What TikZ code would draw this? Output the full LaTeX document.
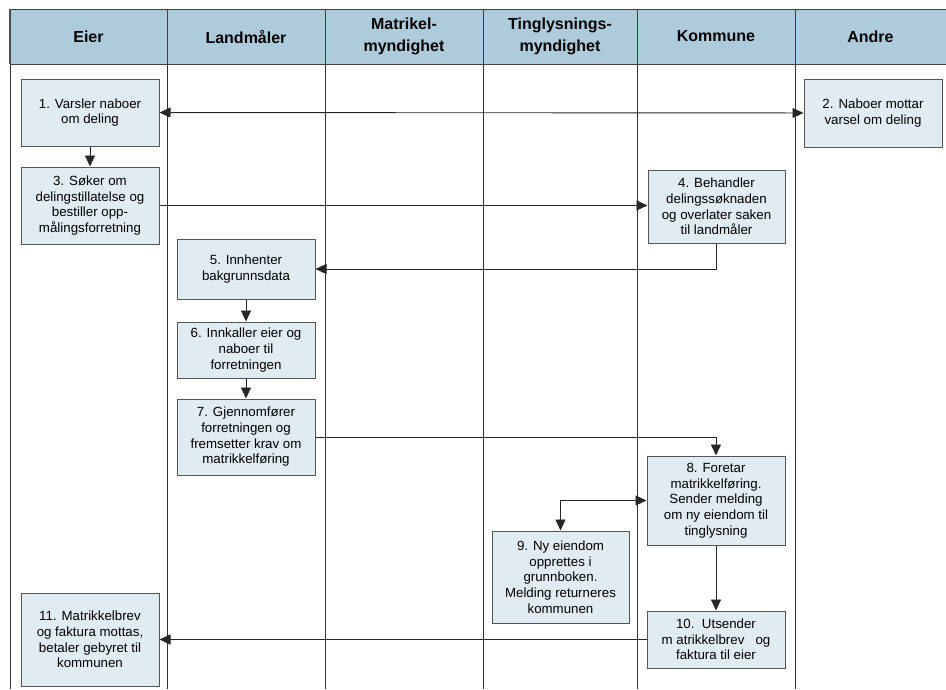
\documentclass[tikz,border=0pt]{standalone}
\usepackage{fontspec}
\setmainfont{Liberation Sans}
\usepackage{tikz}
\usetikzlibrary{arrows.meta}
\usetikzlibrary{calc}
\usetikzlibrary{positioning}
\definecolor{headblue}{RGB}{174,203,219}
\definecolor{boxblue}{RGB}{224,235,242}
\definecolor{edgegray}{RGB}{85,85,85}
\tikzstyle{arrow}= [line width=0.9pt, draw=black!85, ->, >={Triangle[length=11pt,width=10pt]}]
\tikzstyle{bsarrow}= [line width=0.9pt, draw=black!85, <->, >={Triangle[length=11pt,width=10pt]}]

\begin{document}
\begin{tikzpicture}[
		x=1pt,y=-1pt,
		node distance=0pt,
    lane/.style={
    draw=black!75,fill=headblue,line width=0.9pt,outer sep=0pt,
    minimum height=55pt,inner sep=0pt,align=center,
    font=\fontsize{16}{22}\selectfont\bfseries
    },
    stepbox/.style={
    draw=edgegray,fill=boxblue,line width=1pt,minimum width=138pt,
    inner sep=1pt,align=center,font=\fontsize{13.3}{15.7}\selectfont
    }
	]
  \useasboundingbox (0,0) rectangle (946,689);
  \coordinate (bot) at (0,689);

  % lanes
  \node[lane,minimum width=157pt,anchor=north west] (eier) at (10,9) {Eier};
  \node[lane,minimum width=158pt,right=of eier] (landm) {Landmåler};
  \node[lane,minimum width=158pt,right=of landm] (matr) {Matrikel-\\myndighet};
  \node[lane,minimum width=154pt,right=of matr] (tingl) {Tinglysnings-\\myndighet};
  \node[lane,minimum width=158pt,right=of tingl] (komm) {Kommune};
  \node[lane,minimum width=151pt,right=of komm] (andre) {Andre};
  \foreach \l in {eier,landm,matr,tingl,komm,andre}
    \draw[line width=0.9pt,black!80] (\l.south west) -- (\l.south west |- bot);
  \draw[line width=2pt,black!70] (eier.north west) -- (eier.south west);

  % steps
  \node[stepbox,minimum height=67pt] (s1) at (90,112.5) {1. Varsler naboer\\om deling};
  \node[stepbox,minimum height=68pt] (s2) at (873,113) {2. Naboer mottar\\varsel om deling};
  \node[stepbox,minimum height=77pt] (s3) at (90,205.5) {3. Søker om\\delingstillatelse og\\bestiller opp-\\målingsforretning};
  \node[stepbox,minimum height=73pt,minimum width=137pt] (s4) at (716.5,206.5) {4. Behandler\\delingssøknaden\\og overlater saken\\til landmåler};
  \node[stepbox,minimum height=60pt] (s5) at (246,269) {5. Innhenter\\bakgrunnsdata};
  \node[stepbox,minimum height=56pt] (s6) at (246,350) {6. Innkaller eier og\\naboer til\\forretningen};
  \node[stepbox,minimum height=76pt] (s7) at (246,437) {7. Gjennomfører\\forretningen og\\fremsetter krav om\\matrikkelføring};
  \node[stepbox,minimum height=89pt] (s8) at (716,500.5) {8. Foretar\\matrikkelføring.\\Sender melding\\om ny eiendom til\\tinglysning};
  \node[stepbox,minimum height=92pt,minimum width=137pt] (s9) at (560.5,577) {9. Ny eiendom\\opprettes i\\grunnboken.\\Melding returneres\\kommunen};
  \node[stepbox,minimum height=57pt] (s10) at (716,639.5) {10.\ \ Utsender\\m atrikkelbrev\ \ \ og\\faktura til eier};
  \node[stepbox,minimum height=93pt] (s11) at (90,639.5) {11. Matrikkelbrev\\og faktura mottas,\\betaler gebyret til\\kommunen};

  % flow
  \draw[bsarrow] (s1) -- (s2);
  \draw[arrow] (s1) -- (s3);
  \draw[arrow] (s3.east) -- (s3.east -| s4.west);
  \draw[arrow] (s4.south) |- (s5.east);
  \draw[arrow] (s5) -- (s6);
  \draw[arrow] (s6) -- (s7);
  \draw[arrow] (s7.east) -| (s8.north);
  \draw[bsarrow] (s9.north) |- (s8.west);
  \draw[arrow] (s8) -- (s10);
  \draw[arrow] (s10.west) -- (s11.east);

\end{tikzpicture}
\end{document}
